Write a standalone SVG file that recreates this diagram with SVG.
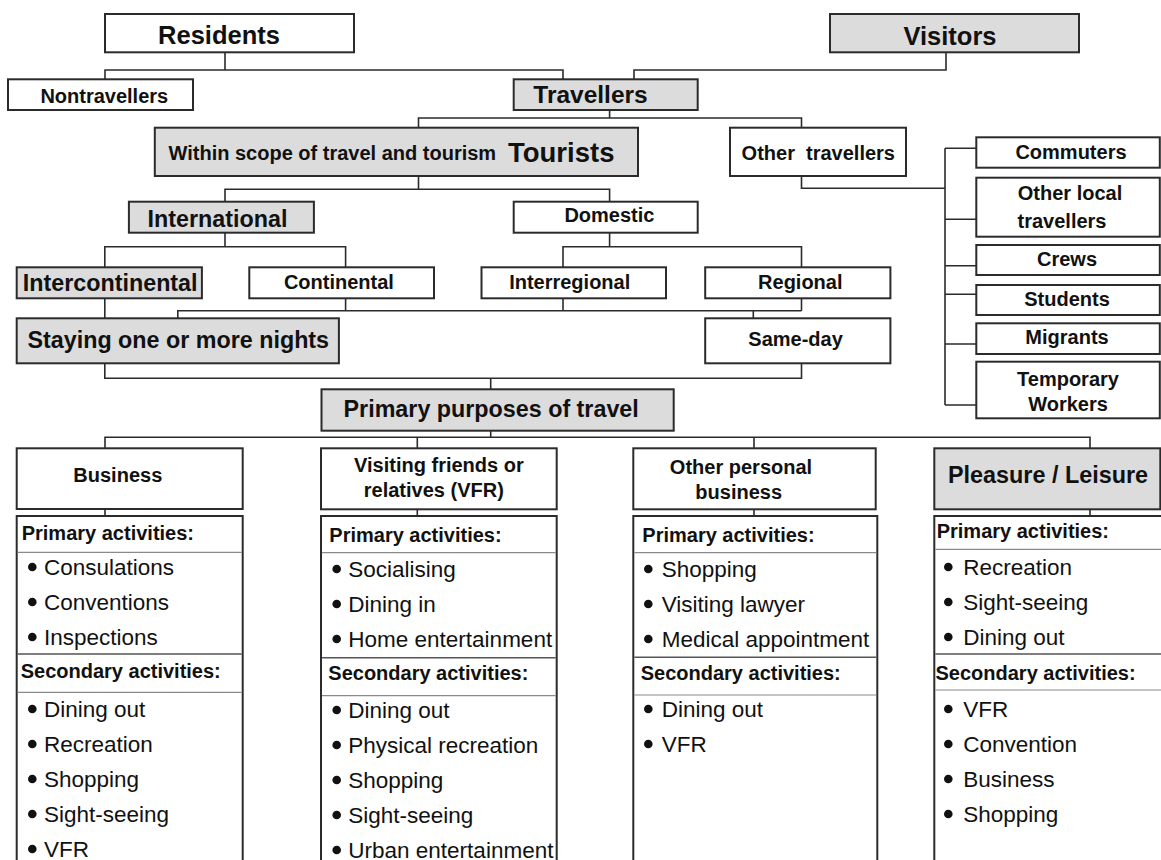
<svg xmlns="http://www.w3.org/2000/svg" width="1161" height="860" viewBox="0 0 1161 860">
  <style>
    .box { fill: #ffffff; stroke: #2b2b2b; stroke-width: 2; }
    .grey { fill: #dcdcdc; }
    .lbl { font-family: "Liberation Sans", Arial, sans-serif; font-weight: bold; fill: #111; text-anchor: middle; }
    .l20 { font-size: 20px; }
    .l23 { font-size: 23.3px; }
    .l25 { font-size: 25.5px; }
    .head { font-family: "Liberation Sans", Arial, sans-serif; font-weight: bold; font-size: 20px; fill: #111; }
    .item { font-family: "Liberation Sans", Arial, sans-serif; font-size: 22.5px; fill: #111; }
    .sep { stroke: #8a8a8a; stroke-width: 1.2; }
    .sepd { stroke: #555; stroke-width: 1.5; }
    .conn { fill: none; stroke: #2b2b2b; stroke-width: 1.6; }
    .dot { fill: #111; }
  </style>
  <defs>
    <circle id="bullet" r="4.3" class="dot"/>
  </defs>
  <rect width="1161" height="860" fill="#ffffff"/>

  <!-- connectors -->
  <g id="connectors" class="conn">
    <path d="M225 52.3V70 M105 79.3V70H563V79.3"/>
    <path d="M946 52.3V70H634V79.3"/>
    <path d="M609.6 110V118 M418.5 127.7V118H801.5V127.7"/>
    <path d="M418.5 176V189.3 M225 201.7V189.3H609.6V201.7"/>
    <path d="M801.5 176V188.3H945 M945 148.3V405 M945 148.3H976 M945 219.3H976 M945 265.7H976 M945 294.3H976 M945 344H976 M945 405H976"/>
    <path d="M225 232.7V246.7 M104.8 267.3V246.7H345.6V267.3"/>
    <path d="M609.6 232.7V246.7 M563 267.3V246.7H801.5V267.3"/>
    <path d="M104.8 298.3V318.3"/>
    <path d="M345.6 298.3V310.7 M563 298.3V310.7 M801.5 298.3V310.7 M177.8 318.3V310.7H801.5 M753.3 310.7V318.3"/>
    <path d="M104.8 363.3V378.3H801.5V363.3 M490.7 378.3V389.3"/>
    <path d="M490.7 430.7V437.3 M105 448.3V437.3H1090V448.3 M417.3 437.3V448.3 M754 437.3V448.3"/>
    <path d="M105 509V516 M417.3 509.3V516 M754 509.3V516 M1090 509.3V516"/>
  </g>

  <!-- population tiers -->
  <g id="residents">
    <rect class="box" x="105" y="14" width="249" height="38.3"/>
    <text class="lbl l25" x="219" y="44">Residents</text>
  </g>
  <g id="visitors">
    <rect class="box grey" x="830" y="14" width="249" height="38.3"/>
    <text class="lbl l25" x="950" y="44.5">Visitors</text>
  </g>
  <g id="nontravellers">
    <rect class="box" x="8" y="79.3" width="185" height="30.7"/>
    <text class="lbl l20" x="104.3" y="102.5">Nontravellers</text>
  </g>
  <g id="travellers">
    <rect class="box grey" x="513.7" y="79.3" width="184" height="30.7"/>
    <text class="lbl" style="font-size:24.5px" x="590.5" y="102.5">Travellers</text>
  </g>
  <g id="tourists">
    <rect class="box grey" x="154.8" y="127.7" width="483.2" height="48.3"/>
    <text class="lbl l20" style="text-anchor:start" x="168.5" y="160">Within scope of travel and tourism</text>
    <text class="lbl" style="text-anchor:start;font-size:27.5px" x="508" y="162">Tourists</text>
  </g>
  <g id="other-travellers">
    <rect class="box" x="730" y="127.7" width="176" height="48.3"/>
    <text class="lbl l20" x="818.3" y="160" xml:space="preserve">Other  travellers</text>
  </g>

  <!-- other traveller types -->
  <g id="commuters">
    <rect class="box" x="976.3" y="137.3" width="183.5" height="30.4"/>
    <text class="lbl l20" x="1071" y="159">Commuters</text>
  </g>
  <g id="other-local">
    <rect class="box" x="976.3" y="177.7" width="183.5" height="59"/>
    <text class="lbl l20" x="1070" y="200">Other local</text>
    <text class="lbl l20" x="1062" y="228">travellers</text>
  </g>
  <g id="crews">
    <rect class="box" x="976.3" y="245" width="183.5" height="30"/>
    <text class="lbl l20" x="1067" y="266">Crews</text>
  </g>
  <g id="students">
    <rect class="box" x="976.3" y="285" width="183.5" height="30"/>
    <text class="lbl l20" x="1067" y="305.5">Students</text>
  </g>
  <g id="migrants">
    <rect class="box" x="976.3" y="323.3" width="183.5" height="30.7"/>
    <text class="lbl l20" x="1067" y="343.5">Migrants</text>
  </g>
  <g id="temporary-workers">
    <rect class="box" x="976.3" y="361.7" width="183.5" height="56.6"/>
    <text class="lbl l20" x="1068" y="386">Temporary</text>
    <text class="lbl l20" x="1068" y="410.5">Workers</text>
  </g>

  <!-- geography -->
  <g id="international">
    <rect class="box grey" x="128.9" y="201.7" width="185" height="31"/>
    <text class="lbl l23" x="217.5" y="226.5">International</text>
  </g>
  <g id="domestic">
    <rect class="box" x="513.7" y="201.7" width="184" height="31"/>
    <text class="lbl l20" x="609.4" y="222">Domestic</text>
  </g>
  <g id="intercontinental">
    <rect class="box grey" x="16.7" y="267.3" width="185.2" height="31"/>
    <text class="lbl l23" x="110.2" y="291">Intercontinental</text>
  </g>
  <g id="continental">
    <rect class="box" x="249.3" y="267.3" width="184.7" height="31"/>
    <text class="lbl l20" x="338.9" y="289">Continental</text>
  </g>
  <g id="interregional">
    <rect class="box" x="481.5" y="267.3" width="184.5" height="31"/>
    <text class="lbl l20" x="569.7" y="288.5">Interregional</text>
  </g>
  <g id="regional">
    <rect class="box" x="705.2" y="267.3" width="185.2" height="31"/>
    <text class="lbl l20" x="800.3" y="289">Regional</text>
  </g>

  <!-- duration -->
  <g id="staying">
    <rect class="box grey" x="16.7" y="318.3" width="322.2" height="45"/>
    <text class="lbl l23" x="178.3" y="348">Staying one or more nights</text>
  </g>
  <g id="same-day">
    <rect class="box" x="705.2" y="318.3" width="185.2" height="45"/>
    <text class="lbl l20" x="795.6" y="346">Same-day</text>
  </g>
  <g id="primary-purposes">
    <rect class="box grey" x="321.5" y="389.3" width="352.2" height="41.4"/>
    <text class="lbl l23" x="491.2" y="416.5">Primary purposes of travel</text>
  </g>

  <!-- purposes -->
  <g id="business">
    <rect class="box" x="16.7" y="448.3" width="226" height="60.7"/>
    <text class="lbl l20" x="117.8" y="481.5">Business</text>
  </g>
  <g id="vfr">
    <rect class="box" x="321" y="448.3" width="235.7" height="61"/>
    <text class="lbl l20" x="438.9" y="471.5">Visiting friends or</text>
    <text class="lbl l20" x="433.8" y="496.5">relatives (VFR)</text>
  </g>
  <g id="other-personal">
    <rect class="box" x="633.3" y="448.3" width="242.4" height="61"/>
    <text class="lbl l20" x="741" y="474.3">Other personal</text>
    <text class="lbl l20" x="738.7" y="499">business</text>
  </g>
  <g id="pleasure">
    <rect class="box grey" x="934.3" y="448.3" width="226" height="61"/>
    <text class="lbl" style="font-size:23.4px" x="1048" y="483.3">Pleasure / Leisure</text>
  </g>

  <!-- activity lists -->
  <g id="business-activities">
    <rect class="box" x="16.7" y="516" width="226" height="360"/>
    <text class="head" x="21.7" y="540">Primary activities:</text>
    <line class="sep" x1="17.7" y1="552.3" x2="241.7" y2="552.3"/>
    <use href="#bullet" x="32.3" y="567"/><text class="item" x="44" y="575">Consulations</text>
    <use href="#bullet" x="32.3" y="602"/><text class="item" x="44" y="610">Conventions</text>
    <use href="#bullet" x="32.3" y="637"/><text class="item" x="44" y="645">Inspections</text>
    <line class="sepd" x1="17.7" y1="654" x2="241.7" y2="654"/>
    <text class="head" x="20.7" y="678.3">Secondary activities:</text>
    <line class="sep" x1="17.7" y1="692.3" x2="241.7" y2="692.3"/>
    <use href="#bullet" x="32.3" y="709"/><text class="item" x="44" y="717">Dining out</text>
    <use href="#bullet" x="32.3" y="744"/><text class="item" x="44" y="752">Recreation</text>
    <use href="#bullet" x="32.3" y="779"/><text class="item" x="44" y="787">Shopping</text>
    <use href="#bullet" x="32.3" y="814"/><text class="item" x="44" y="822">Sight-seeing</text>
    <use href="#bullet" x="32.3" y="849"/><text class="item" x="44" y="857">VFR</text>
  </g>
  <g id="vfr-activities">
    <rect class="box" x="321" y="516" width="235.7" height="360"/>
    <text class="head" x="329.3" y="541.5">Primary activities:</text>
    <line class="sep" x1="322" y1="552.7" x2="555.7" y2="552.7"/>
    <use href="#bullet" x="336.7" y="569"/><text class="item" x="348.3" y="576.7">Socialising</text>
    <use href="#bullet" x="336.7" y="604"/><text class="item" x="348.3" y="611.7">Dining in</text>
    <use href="#bullet" x="336.7" y="639"/><text class="item" x="348.3" y="646.7">Home entertainment</text>
    <line class="sepd" x1="322" y1="657.7" x2="555.7" y2="657.7"/>
    <text class="head" x="328.3" y="680">Secondary activities:</text>
    <line class="sep" x1="322" y1="695.7" x2="555.7" y2="695.7"/>
    <use href="#bullet" x="336.7" y="710"/><text class="item" x="348.3" y="718">Dining out</text>
    <use href="#bullet" x="336.7" y="745"/><text class="item" x="348.3" y="753">Physical recreation</text>
    <use href="#bullet" x="336.7" y="780"/><text class="item" x="348.3" y="788">Shopping</text>
    <use href="#bullet" x="336.7" y="815"/><text class="item" x="348.3" y="823">Sight-seeing</text>
    <use href="#bullet" x="336.7" y="850"/><text class="item" x="348.3" y="858">Urban entertainment</text>
  </g>
  <g id="other-personal-activities">
    <rect class="box" x="633.3" y="516" width="244" height="360"/>
    <text class="head" x="642.3" y="541.5">Primary activities:</text>
    <line class="sep" x1="634.3" y1="552.7" x2="876.3" y2="552.7"/>
    <use href="#bullet" x="648.3" y="569"/><text class="item" x="661.7" y="576.7">Shopping</text>
    <use href="#bullet" x="648.3" y="604"/><text class="item" x="661.7" y="611.7">Visiting lawyer</text>
    <use href="#bullet" x="648.3" y="639"/><text class="item" x="661.7" y="646.7">Medical appointment</text>
    <line class="sepd" x1="634.3" y1="657.3" x2="876.3" y2="657.3"/>
    <text class="head" x="640.7" y="680">Secondary activities:</text>
    <line class="sep" x1="634.3" y1="695" x2="876.3" y2="695"/>
    <use href="#bullet" x="648.3" y="709"/><text class="item" x="661.7" y="717">Dining out</text>
    <use href="#bullet" x="648.3" y="744"/><text class="item" x="661.7" y="752">VFR</text>
  </g>
  <g id="pleasure-activities">
    <rect class="box" x="934.3" y="516" width="240" height="360"/>
    <text class="head" x="936.7" y="538.3">Primary activities:</text>
    <line class="sep" x1="935.3" y1="549.3" x2="1161" y2="549.3"/>
    <use href="#bullet" x="948.3" y="567"/><text class="item" x="963.3" y="575">Recreation</text>
    <use href="#bullet" x="948.3" y="602"/><text class="item" x="963.3" y="610">Sight-seeing</text>
    <use href="#bullet" x="948.3" y="637"/><text class="item" x="963.3" y="645">Dining out</text>
    <line class="sepd" x1="935.3" y1="654" x2="1161" y2="654"/>
    <text class="head" x="935.5" y="680">Secondary activities:</text>
    <line class="sep" x1="935.3" y1="690" x2="1161" y2="690"/>
    <use href="#bullet" x="948.3" y="709"/><text class="item" x="963.3" y="717">VFR</text>
    <use href="#bullet" x="948.3" y="744"/><text class="item" x="963.3" y="752">Convention</text>
    <use href="#bullet" x="948.3" y="779"/><text class="item" x="963.3" y="787">Business</text>
    <use href="#bullet" x="948.3" y="814"/><text class="item" x="963.3" y="822">Shopping</text>
  </g>
</svg>
